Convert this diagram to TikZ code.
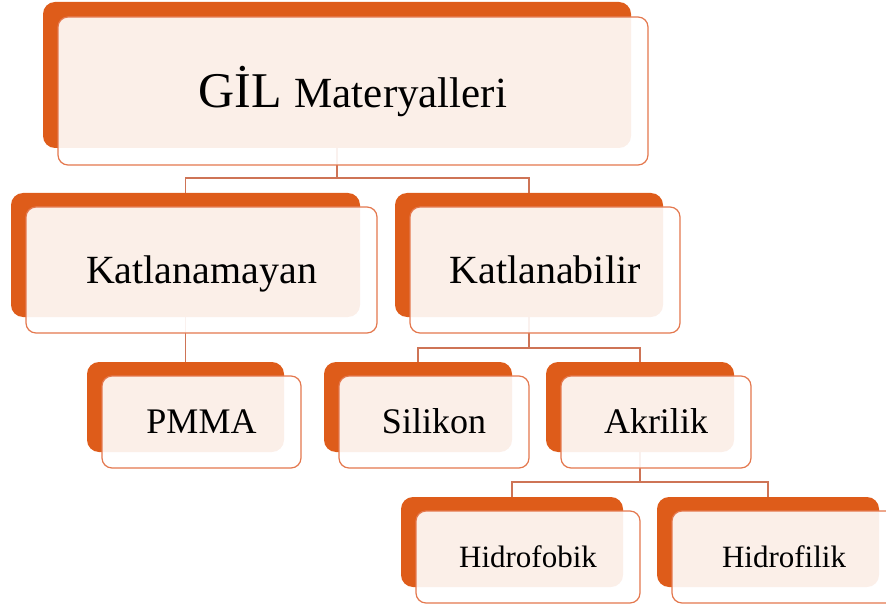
\documentclass[tikz,border=0pt]{standalone}
\usepackage{fontspec}
\setmainfont{Liberation Serif}
\usetikzlibrary{backgrounds}

\definecolor{gilorange}{RGB}{222,92,26}
\definecolor{gilline}{RGB}{228,120,78}
\definecolor{gillink}{RGB}{206,116,86}

\tikzset{
  backbox/.style={rectangle, rounded corners=12pt, fill=gilorange, draw=none},
  frontbox/.style={rectangle, rounded corners=10pt, draw=gilline, line width=1.2pt,
    fill=white, fill opacity=0.9, text opacity=1, text depth=0pt},
  link/.style={draw=gillink, line width=1.4pt},
}

\begin{document}
\begin{tikzpicture}[x=1pt,y=-1pt]
    \useasboundingbox (0,0) rectangle (886,604);
    \node[backbox, minimum width=588, minimum height=146] (back-root) at (337,75) {};
    \node[frontbox, minimum width=590, minimum height=148, text height=33] (root) at (353,91)
      {\fontsize{50}{50}\selectfont GİL \fontsize{43}{43}\selectfont Materyalleri};
    \foreach \nm/\cx/\cy/\w/\h/\fs/\txt in {
        katn/185.5/255/349/124/40/Katlanamayan,
        katb/529/255/268/124/40/Katlanabilir,
        pmma/185.5/407/197/90/36/PMMA,
        sili/418/407/188/90/36/Silikon,
        akri/640/407/188/90/36/Akrilik,
        hfob/512/542/222/90/31/Hidrofobik,
        hfil/768/542/222/90/31/Hidrofilik} {
      \node[backbox, minimum width=\w, minimum height=\h] (back-\nm) at (\cx,\cy) {};
      \node[frontbox, minimum width=\w+2, minimum height=\h+2, text height=0.66*\fs,
        font=\fontsize{\fs}{\fs}\selectfont] (\nm) at (\cx+16,\cy+15) {\txt};
    }
    \begin{pgfonlayer}{background}
      \coordinate (root-j) at (337,178);
      \draw[link] (back-root.south) -- (root-j) -| (back-katn.north);
      \draw[link] (root-j) -| (back-katb.north);
      \draw[link] (back-katn.south) -- (back-pmma.north);
      \coordinate (katb-j) at (529,348);
      \draw[link] (back-katb.south) -- (katb-j) -| (back-sili.north);
      \draw[link] (katb-j) -| (back-akri.north);
      \coordinate (akri-j) at (640,482);
      \draw[link] (back-akri.south) -- (akri-j) -| (back-hfob.north);
      \draw[link] (akri-j) -| (back-hfil.north);
    \end{pgfonlayer}
  \end{tikzpicture}
\end{document}
